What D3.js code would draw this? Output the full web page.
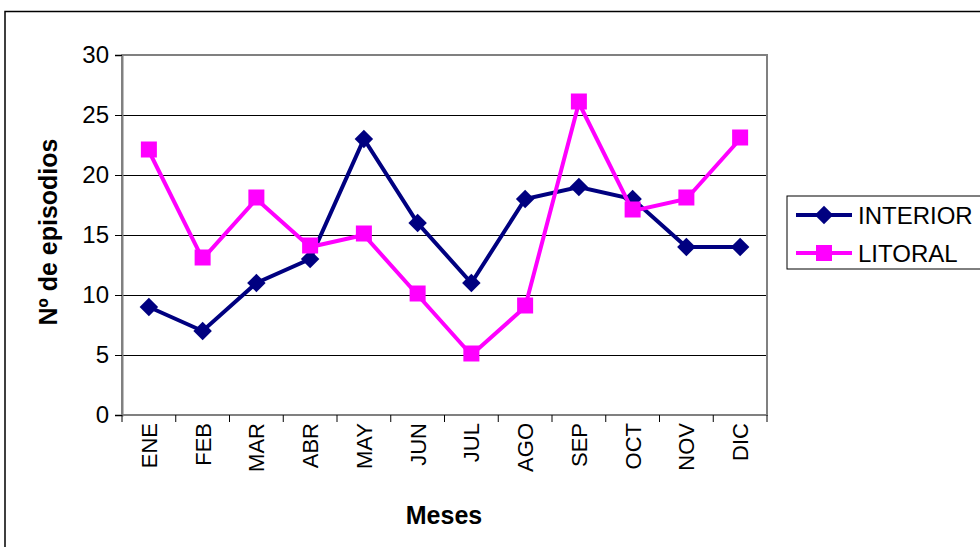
<!DOCTYPE html>
<html><head><meta charset="utf-8">
<script src="https://cdn.jsdelivr.net/npm/d3@7"></script>
<style>body{margin:0;background:#fff}svg{display:block;font-family:Arial,"Liberation Sans",sans-serif}</style>
</head><body><svg id="c" width="980" height="547"></svg>
<script>
const months = ["ENE","FEB","MAR","ABR","MAY","JUN","JUL","AGO","SEP","OCT","NOV","DIC"];
const interior = [9,7,11,13,23,16,11,18,19,18,14,14];
const litoral = [22,13,18,14,15,10,5,9,26,17,18,23];
const yTicks = [0,5,10,15,20,25,30];
const seriesNames = ["INTERIOR","LITORAL"];

const svg = d3.select("#c");
const L=122,R=767,T=55,B=415;
svg.append("rect").attr("x",5).attr("y",11.5).attr("width",1000).attr("height",600)
  .attr("fill","none").attr("stroke","#000").attr("stroke-width",1.5);

const x = d3.scaleBand().domain(months).range([L,R]);
const y = d3.scaleLinear().domain([0,30]).range([B,T]);

svg.append("g").attr("shape-rendering","crispEdges").selectAll("line").data(yTicks.filter(d=>d>0&&d<30)).join("line")
  .attr("x1",L).attr("x2",R).attr("y1",d=>y(d)+0.5).attr("y2",d=>y(d)+0.5).attr("stroke","#000").attr("stroke-width",1);

svg.append("rect").attr("x",L).attr("y",T).attr("width",R-L).attr("height",B-T)
  .attr("fill","none").attr("stroke","#808080").attr("stroke-width",2);

const ya = svg.append("g").attr("transform",`translate(${L},0)`)
  .call(d3.axisLeft(y).tickValues(yTicks).tickSize(7).tickPadding(6));
ya.select(".domain").attr("stroke","#808080").attr("stroke-width",2);
ya.selectAll(".tick line").attr("stroke","#000");
ya.selectAll("text").attr("font-size",24).attr("font-family","Arial").attr("fill","#000");

const xa = svg.append("g").attr("transform",`translate(0,${B})`)
  .call(d3.axisBottom(x).tickSize(0).tickPadding(0));
xa.select(".domain").remove();
xa.selectAll(".tick text").attr("font-size",22).attr("font-family","Arial").attr("fill","#000")
  .attr("transform","rotate(-90)").attr("text-anchor","end").attr("dy","0.36em").attr("x",-8).attr("y",0);
svg.append("g").selectAll("line").data(d3.range(months.length+1)).join("line")
  .attr("x1",i=>L+i*x.step()).attr("x2",i=>L+i*x.step()).attr("y1",B).attr("y2",B+7).attr("stroke","#000");

svg.append("text").attr("x",444).attr("y",524).attr("text-anchor","middle")
  .attr("font-size",25).attr("font-weight","bold").text("Meses");
svg.append("text").attr("transform","translate(57,232) rotate(-90)").attr("text-anchor","middle")
  .attr("font-size",25).attr("font-weight","bold").text("Nº de episodios");

const cx = d => x(d)+x.bandwidth()/2;
const line = d3.line().x(d=>cx(d[0])).y(d=>y(d[1]));
const colors = ["#000080","#FF00FF"];
const data = [interior, litoral];
data.forEach((vals,si)=>{
  const pts = months.map((m,i)=>[m,vals[i]]);
  svg.append("path").attr("d",line(pts)).attr("fill","none").attr("stroke",colors[si]).attr("stroke-width",4);
  const g = svg.append("g");
  if(si===0){
    g.selectAll("path").data(pts).join("path")
      .attr("d",d3.symbol(d3.symbolSquare, 170))
      .attr("transform",d=>`translate(${cx(d[0])},${y(d[1])}) rotate(45)`).attr("fill",colors[si]);
  } else {
    g.selectAll("rect").data(pts).join("rect")
      .attr("x",d=>cx(d[0])-8).attr("y",d=>y(d[1])-9.5).attr("width",16).attr("height",16).attr("fill",colors[si]);
  }
});

const lg = svg.append("g");
lg.append("rect").attr("x",787).attr("y",196).attr("width",200).attr("height",73)
  .attr("fill","#fff").attr("stroke","#000").attr("stroke-width",1);
seriesNames.forEach((n,i)=>{
  const yy = 215 + i*38;
  lg.append("line").attr("x1",796).attr("x2",852).attr("y1",yy).attr("y2",yy).attr("stroke",colors[i]).attr("stroke-width",4);
  if(i===0){
    lg.append("path").attr("d",d3.symbol(d3.symbolSquare,170)).attr("transform",`translate(824,${yy}) rotate(45)`).attr("fill",colors[i]);
  } else {
    lg.append("rect").attr("x",816).attr("y",yy-8).attr("width",16).attr("height",16).attr("fill",colors[i]);
  }
  lg.append("text").attr("x",858).attr("y",yy+8.5).attr("font-size",24).text(n);
});
</script></body></html>
